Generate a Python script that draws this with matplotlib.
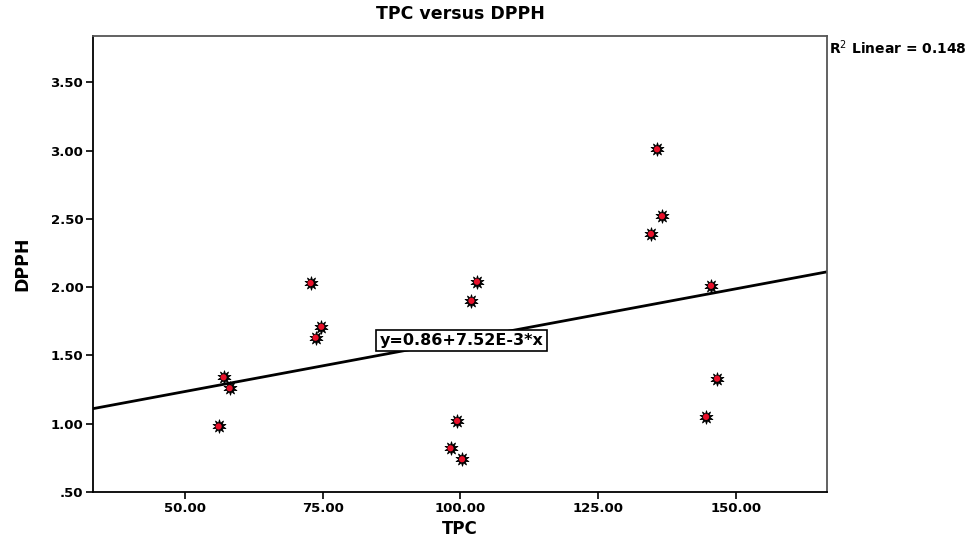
import matplotlib.pyplot as plt
import numpy as np

# --- Data ---
tpc = [56.1, 57.0, 58.1, 72.8, 73.7, 74.75,
       98.2, 99.4, 100.3, 102.0, 103.0,
       134.6, 135.7, 136.6, 144.6, 145.5, 146.6]
dpph = [0.98, 1.34, 1.26, 2.03, 1.63, 1.71,
        0.82, 1.02, 0.74, 1.90, 2.04,
        2.39, 3.01, 2.52, 1.05, 2.01, 1.33]

intercept = 0.86
slope = 7.52e-3
r2_text = "R$^2$ Linear = 0.148"
eq_text = "y=0.86+7.52E-3*x"

xticks = [50, 75, 100, 125, 150]
yticks = [0.5, 1.0, 1.5, 2.0, 2.5, 3.0, 3.5]
ytick_labels = [".50", "1.00", "1.50", "2.00", "2.50", "3.00", "3.50"]

xlim = (33.3, 166.6)
ylim = (0.5, 3.84)


def main():
    fig = plt.figure(figsize=(9.72, 5.41), dpi=100)
    ax = fig.add_axes([0.0957, 0.0906, 0.7554, 0.8429])

    # regression line across the full x range
    xs = np.array(xlim)
    ax.plot(xs, intercept + slope * xs, color='black', linewidth=2, zorder=2)

    # star-burst markers: black spiky star with a red dot
    ax.scatter(tpc, dpph, marker=(10, 1, 0), s=95, color='black',
               linewidths=0.6, zorder=3)
    ax.scatter(tpc, dpph, marker='o', s=20, color='#e8102a',
               edgecolors='none', zorder=4)

    ax.set_xlim(*xlim)
    ax.set_ylim(*ylim)
    ax.set_xticks(xticks)
    ax.set_xticklabels([f"{v:.2f}" for v in xticks])
    ax.set_yticks(yticks)
    ax.set_yticklabels(ytick_labels)
    ax.tick_params(direction='out', length=5, width=1.2, labelsize=9.5, pad=2)
    for lab in ax.get_xticklabels() + ax.get_yticklabels():
        lab.set_fontweight('bold')

    for side in ['left', 'bottom']:
        ax.spines[side].set_color('black')
        ax.spines[side].set_linewidth(1.3)
    for side in ['top', 'right']:
        ax.spines[side].set_color('#555555')
        ax.spines[side].set_linewidth(1.3)

    ax.set_xlabel('TPC', fontsize=12, fontweight='bold', labelpad=4)
    ax.set_ylabel('DPPH', fontsize=12.5, fontweight='bold', labelpad=14)
    ax.set_title('TPC versus DPPH', fontsize=12.5, fontweight='bold', pad=12)

    ax.text(85.3, 1.61, eq_text, fontsize=11.5, fontweight='bold',
            ha='left', va='center', zorder=5,
            bbox=dict(boxstyle='square,pad=0.2', facecolor='white',
                      edgecolor='black', linewidth=1.2))

    fig.text(0.853, 0.912, r2_text, fontsize=10, fontweight='bold',
             ha='left', va='center')

    fig.savefig('out.png', dpi=100)


if __name__ == "__main__":
    main()
